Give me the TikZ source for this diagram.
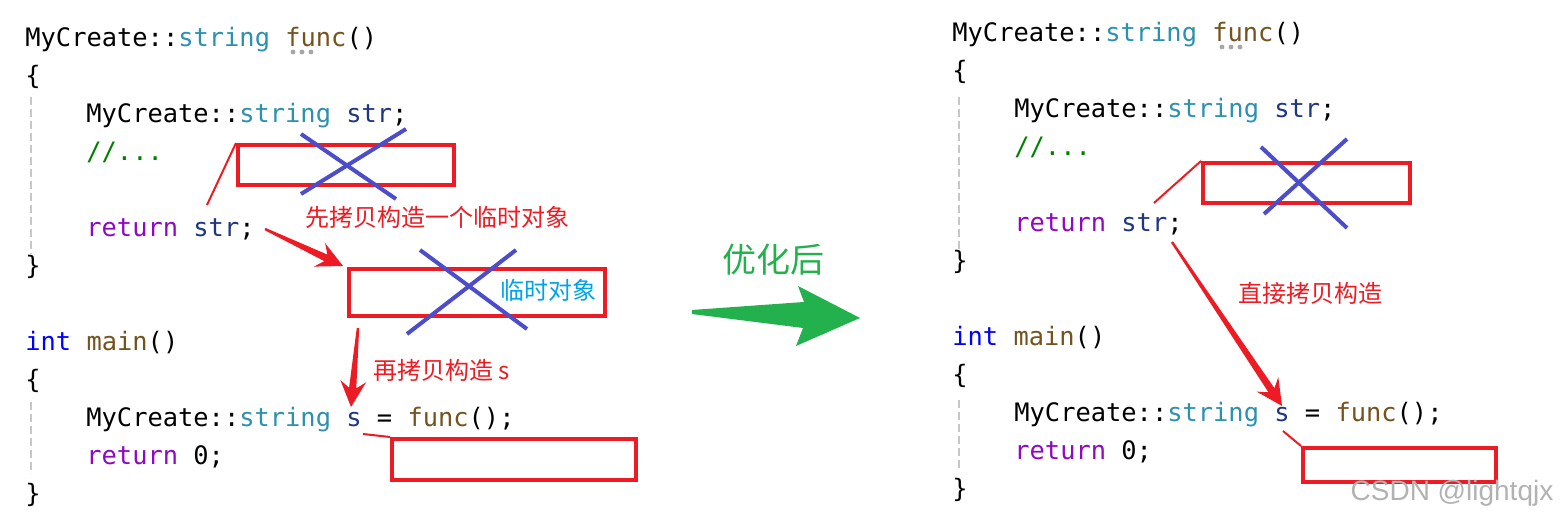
\documentclass[tikz,border=0pt]{standalone}
\usepackage{fontspec}
\setmonofont{DejaVu Sans Mono}
\newfontfamily\cjkfont{Noto Sans CJK SC}
\newfontfamily\wmfont{Liberation Sans}
\usetikzlibrary{calc}
\definecolor{boxred}{HTML}{ED1C24}
\definecolor{crossblue}{HTML}{4B4DCB}
\definecolor{arrowgreen}{HTML}{22B14C}
\definecolor{notecyan}{HTML}{00A2E8}
\definecolor{typeteal}{HTML}{2B91AF}
\definecolor{varnavy}{HTML}{1F377F}
\definecolor{funcbrown}{HTML}{74531F}
\definecolor{keypurple}{HTML}{8F08C4}
\definecolor{keyblue}{HTML}{0000FF}
\definecolor{commgreen}{HTML}{008000}
\newcommand\codefont{\ttfamily\fontsize{12.7pt}{15pt}\selectfont}
\newcommand\ctype[1]{\textcolor{typeteal}{#1}}
\newcommand\cvar[1]{\textcolor{varnavy}{#1}}
\newcommand\cfunc[1]{\textcolor{funcbrown}{#1}}
\newcommand\ckey[1]{\textcolor{keypurple}{#1}}
% tapered red arrow from #1 to #2
\newcommand\fatarrow[2]{%
  \fill[boxred]
    ($(#1)!0.6pt!90:(#2)$) --
    ($(#2)!9.5pt!(#1)!1.8pt!-90:(#1)$) --
    ($(#2)!13pt!(#1)!6.5pt!-90:(#1)$) --
    (#2) --
    ($(#2)!13pt!(#1)!6.5pt!90:(#1)$) --
    ($(#2)!9.5pt!(#1)!1.8pt!90:(#1)$) --
    ($(#1)!0.6pt!-90:(#2)$) -- cycle;}
\begin{document}
\begin{tikzpicture}[x=0.5pt, y=-0.5pt,
  code/.style={anchor=base west, inner sep=0pt, font=\codefont},
  redbox/.style={draw=boxred, line width=2pt, inner sep=0pt},
  cross/.style={draw=crossblue, line width=2pt},
  link/.style={draw=boxred, line width=1pt},
  note/.style={font=\cjkfont\fontsize{12pt}{14pt}\selectfont, text=boxred, inner sep=0pt},
  guide/.style={draw=black!22, line width=1pt, dash pattern=on 4pt off 2pt}]
\fill[white] (0,0) rectangle (1560,523);
\useasboundingbox (0,0) rectangle (1560,523);
% before
\node[code] (l1) at (25,47) {MyCreate::\ctype{string} \cfunc{func}()};
\node[code] (l2) at (25,85) {\{};
\node[code] (l3) at (86,123) {MyCreate::\ctype{string} \cvar{str};};
\node[code] (l4) at (86,161) {\textcolor{commgreen}{//...}};
\node[code] (l5) at (86,237) {\ckey{return} \cvar{str};};
\node[code] (l6) at (25,275) {\}};
\node[code] (l7) at (25,351) {\textcolor{keyblue}{int} \cfunc{main}()};
\node[code] (l8) at (25,389) {\{};
\node[code] (l9) at (86,427) {MyCreate::\ctype{string} \cvar{s} = \cfunc{func}();};
\node[code] (l10) at (86,465) {\ckey{return} 0;};
\node[code] (l11) at (25,503) {\}};
\foreach \d in {293,302,311} \fill[black!35] (\d,52) circle (1.2pt);
\draw[guide] (31,97) -- (31,254);
\draw[guide] (31,402) -- (31,474);
\node[redbox, minimum width=108pt, minimum height=20pt] (tmp1) at (346,165) {};
\node[redbox, minimum width=128pt, minimum height=23.5pt] (tmp2) at (477,292.5) {};
\node[redbox, minimum width=122pt, minimum height=20.5pt] (tmp3) at (514,459.5) {};
\draw[cross] (301,134) -- (396,199);
\draw[cross] (406,129) -- (301,194);
\draw[cross] (420,250) -- (527,329);
\draw[cross] (516,250) -- (407,334);
\coordinate (retA) at (207,205);
\draw[link] (tmp1.north west) -- (retA);
\node[note] (n1) at (437,217) {先拷贝构造一个临时对象};
\node[note, text=notecyan] (n2) at (548,290) {临时对象};
\node[note, anchor=west] (n3) at (373,370) {再拷贝构造 s};
\coordinate (a1s) at (265,229);
\coordinate (a1e) at (343,266);
\fatarrow{a1s}{a1e}
\coordinate (a2s) at (358,328);
\coordinate (a2e) at (351,407);
\fatarrow{a2s}{a2e}
\coordinate (sA) at (363,434);
\draw[link] (sA) -- (tmp3.north west);
% optimisation arrow
\fill[arrowgreen] (692,310) -- (804,302) -- (798,286) -- (860,318) -- (796,346)
  -- (803,328) -- (692,314) -- cycle;
\node[font=\cjkfont\fontsize{17pt}{20pt}\selectfont, text=arrowgreen, inner sep=0pt] (opt) at (773,260) {优化后};
% after
\node[code] (r1) at (952,42) {MyCreate::\ctype{string} \cfunc{func}()};
\node[code] (r2) at (952,80) {\{};
\node[code] (r3) at (1014,118) {MyCreate::\ctype{string} \cvar{str};};
\node[code] (r4) at (1014,156) {\textcolor{commgreen}{//...}};
\node[code] (r5) at (1014,232) {\ckey{return} \cvar{str};};
\node[code] (r6) at (952,270) {\}};
\node[code] (r7) at (952,346) {\textcolor{keyblue}{int} \cfunc{main}()};
\node[code] (r8) at (952,384) {\{};
\node[code] (r9) at (1014,422) {MyCreate::\ctype{string} \cvar{s} = \cfunc{func}();};
\node[code] (r10) at (1014,460) {\ckey{return} 0;};
\node[code] (r11) at (952,498) {\}};
\foreach \d in {1222,1231,1240} \fill[black!35] (\d,47) circle (1.2pt);
\draw[guide] (959,97) -- (959,252);
\draw[guide] (959,400) -- (959,472);
\node[redbox, minimum width=103.5pt, minimum height=20pt] (tmp4) at (1306.5,183) {};
\node[redbox, minimum width=96.5pt, minimum height=17pt] (tmp5) at (1399.5,465) {};
\draw[cross] (1261,147) -- (1347,228);
\draw[cross] (1347,139) -- (1264,214);
\coordinate (retB) at (1154,203);
\draw[link] (tmp4.north west) -- (retB);
\node[note] (n4) at (1310,293) {直接拷贝构造};
\coordinate (a3s) at (1172,242);
\coordinate (a3e) at (1282,406);
\fatarrow{a3s}{a3e}
\coordinate (sB) at (1283,431);
\draw[link] (sB) -- (tmp5.north west);
\node[font=\wmfont\fontsize{14pt}{16pt}\selectfont, text=black!30, inner sep=0pt] (wm) at (1452,493) {CSDN @lightqjx};
\end{tikzpicture}
\end{document}
